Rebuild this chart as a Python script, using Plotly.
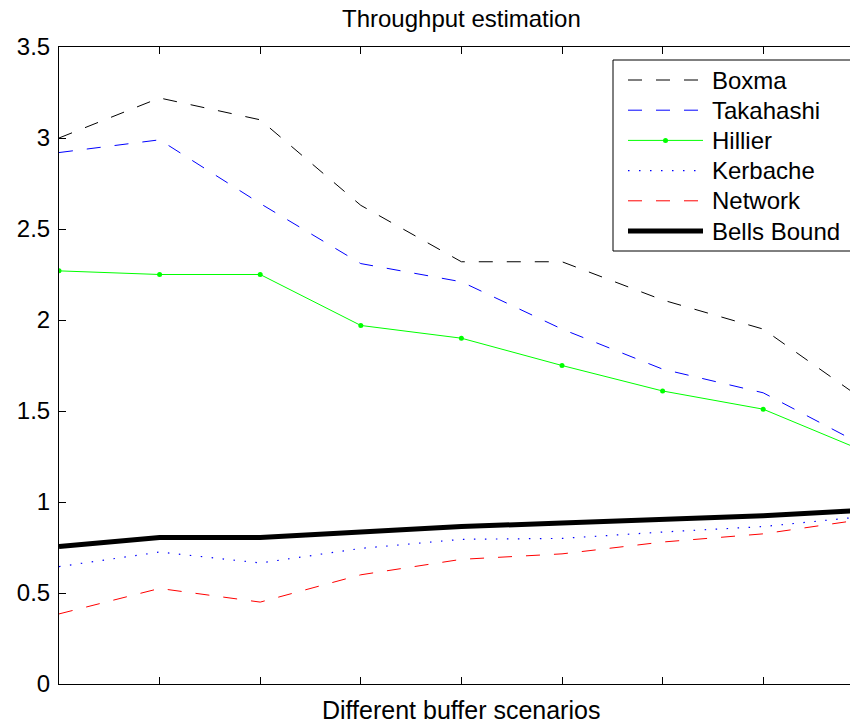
import plotly.graph_objects as go

scenarios = [1, 2, 3, 4, 5, 6, 7, 8, 9]
boxma = [3.00, 3.22, 3.10, 2.63, 2.32, 2.32, 2.11, 1.95, 1.56]
takahashi = [2.92, 2.99, 2.64, 2.31, 2.21, 1.95, 1.73, 1.60, 1.31]
hillier = [2.27, 2.25, 2.25, 1.97, 1.90, 1.75, 1.61, 1.51, 1.28]
kerbache = [0.645, 0.725, 0.665, 0.745, 0.795, 0.80, 0.835, 0.865, 0.92]
network = [0.385, 0.525, 0.45, 0.60, 0.685, 0.715, 0.78, 0.825, 0.905]
bells = [0.755, 0.805, 0.805, 0.835, 0.865, 0.885, 0.905, 0.925, 0.955]
y_ticks = [0, 0.5, 1, 1.5, 2, 2.5, 3, 3.5]
y_tick_labels = ["0", "0.5", "1", "1.5", "2", "2.5", "3", "3.5"]
x_ticks = [2, 3, 4, 5, 6, 7, 8]

FONT = "Liberation Sans, Arial, Helvetica, sans-serif"
DASH = "14px,14px"
DOT = "1.5px,9.5px"

series = [
    ("Boxma", boxma, dict(color="#000000", width=1, dash=DASH), None),
    ("Takahashi", takahashi, dict(color="#0000FF", width=1, dash=DASH), None),
    ("Hillier", hillier, dict(color="#00FF00", width=1), dict(size=5, color="#00FF00")),
    ("Kerbache", kerbache, dict(color="#0000FF", width=1.2, dash=DOT), None),
    ("Network", network, dict(color="#FF0000", width=1, dash=DASH), None),
    ("Bells Bound", bells, dict(color="#000000", width=5), None),
]

fig = go.Figure()
for name, vals, line, marker in series:
    fig.add_trace(go.Scatter(
        x=scenarios, y=vals, name=name,
        mode="lines+markers" if marker else "lines",
        line=line, marker=marker, showlegend=False,
    ))

W, H = 850, 724
L, T, B = 59, 47, 40
pw = W - L
ph = H - T - B

def px(xp):
    return (xp - L) / pw

def py(yp):
    return (H - B - yp) / ph

# manual legend (MATLAB style)
shapes = [dict(type="rect", xref="paper", yref="paper",
               x0=px(613), x1=px(870), y0=py(251), y1=py(60),
               line=dict(color="#000000", width=1), fillcolor="#FFFFFF", layer="above")]
annotations = []
ly0 = 80
step = 30.2
for i, (name, vals, line, marker) in enumerate(series):
    yy = ly0 + i * step
    shapes.append(dict(type="line", xref="paper", yref="paper",
                       x0=px(628), x1=px(703), y0=py(yy), y1=py(yy),
                       line=dict(color=line["color"], width=line["width"],
                                 dash=line.get("dash", "solid")), layer="above"))
    if marker:
        shapes.append(dict(type="circle", xref="paper", yref="paper",
                           x0=px(663), x1=px(668), y0=py(yy + 2.5), y1=py(yy - 2.5),
                           line=dict(color=line["color"], width=0), fillcolor=line["color"], layer="above"))
    annotations.append(dict(text=name, xref="paper", yref="paper", x=px(710), y=py(yy),
                            xanchor="left", yanchor="middle", showarrow=False,
                            font=dict(family=FONT, size=24, color="#000000")))

annotations.append(dict(text="Throughput estimation", xref="x", yref="paper", x=5, y=py(18),
                        xanchor="center", yanchor="middle", showarrow=False,
                        font=dict(family=FONT, size=24, color="#000000")))
annotations.append(dict(text="Different buffer scenarios", xref="x", yref="paper", x=5, y=py(710),
                        xanchor="center", yanchor="middle", showarrow=False,
                        font=dict(family=FONT, size=25, color="#000000")))

fig.update_layout(
    width=W, height=H,
    margin=dict(l=L, r=0, t=T, b=B),
    paper_bgcolor="#FFFFFF", plot_bgcolor="#FFFFFF",
    font=dict(family=FONT, size=24, color="#000000"),
    shapes=shapes, annotations=annotations,
    showlegend=False,
)
fig.update_xaxes(range=[1, 1 + pw / 100.6], tickvals=x_ticks, showticklabels=False,
                 ticks="inside", ticklen=7, tickcolor="#000000", tickwidth=1,
                 showline=True, linecolor="#000000", linewidth=1, mirror="ticks",
                 showgrid=False, zeroline=False)
fig.update_yaxes(range=[0, 3.5], tickvals=y_ticks, ticktext=y_tick_labels,
                 ticks="inside", ticklen=7, tickcolor="#000000", tickwidth=1,
                 showline=True, linecolor="#000000", linewidth=1, mirror=False,
                 showgrid=False, zeroline=False, ticklabelstandoff=3,
                 tickfont=dict(family=FONT, size=24, color="#000000"))

fig.write_html("out.html", config={"displayModeBar": False},
               post_script="document.body.style.margin='0';document.body.style.overflow='hidden';")
